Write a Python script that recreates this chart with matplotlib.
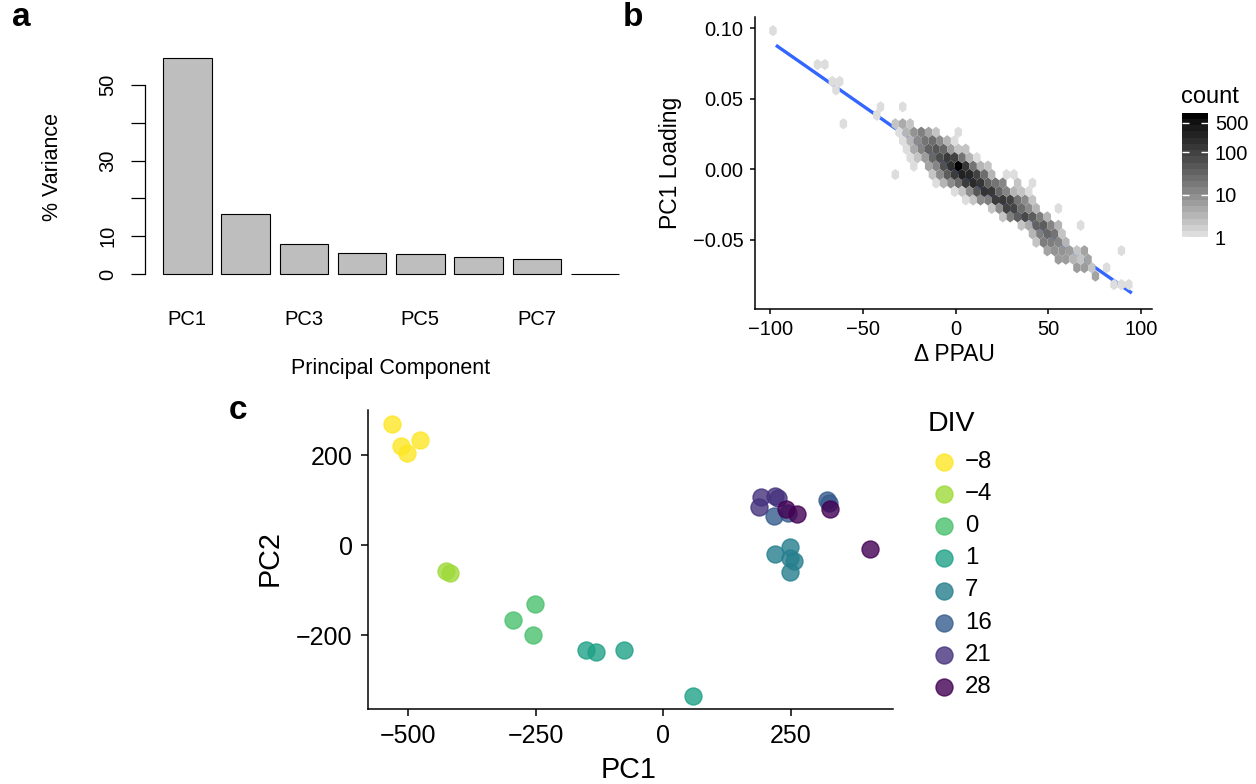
import numpy as np
import matplotlib
matplotlib.use("Agg")
import matplotlib.pyplot as plt
from matplotlib.colors import LinearSegmentedColormap, LogNorm, to_rgba
from matplotlib.cm import ScalarMappable

plt.rcParams["font.family"] = ["Liberation Sans", "DejaVu Sans"]

W, H = 1256, 784

# ---- panel a: scree plot ----
pc_labels = ["PC1", "PC2", "PC3", "PC4", "PC5", "PC6", "PC7", "PC8"]
pc_variance = [57.1, 15.8, 7.8, 5.6, 5.4, 4.5, 3.9, 0.0]
pc_tick_shown = ["PC1", "", "PC3", "", "PC5", "", "PC7", ""]
var_ticks = [0, 10, 20, 30, 40, 50]
var_tick_labels = ["0", "10", "", "30", "", "50"]

# ---- panel b: hexbin of PC1 loading vs delta PPAU (cell centres + counts) ----
hex_rows_y = [0.0983, 0.0743, 0.0623, 0.0563, 0.0443, 0.0383, 0.0323, 0.0263,
              0.0203, 0.0143, 0.0083, 0.0023, -0.0037, -0.0097, -0.0157, -0.0217,
              -0.0277, -0.0337, -0.0397, -0.0457, -0.0517, -0.0577, -0.0637,
              -0.0697, -0.0757, -0.0817]
hex_rows_x = [
    [-98.6],
    [-74.6, -70.6],
    [-66.6, -62.6],
    [-64.6],
    [-40.6, -28.6],
    [-42.6],
    [-60.6, -32.6, -28.6, -24.6],
    [-30.6, -26.6, -22.6, -18.6, -14.6, -10.6, 1.4],
    [-28.6, -24.6, -20.6, -16.6, -12.6, -8.6, -4.6, -0.6],
    [-26.6, -22.6, -18.6, -14.6, -10.6, -6.6, -2.6, 1.4, 5.4],
    [-24.6, -20.6, -16.6, -12.6, -8.6, -4.6, -0.6, 3.4, 7.4, 11.4],
    [-22.6, -14.6, -10.6, -6.6, -2.6, 1.4, 5.4, 9.4, 13.4, 17.4],
    [-32.6, -12.6, -8.6, -4.6, -0.6, 3.4, 7.4, 11.4, 15.4, 19.4, 27.4, 31.4],
    [-10.6, -6.6, -2.6, 1.4, 5.4, 9.4, 13.4, 17.4, 21.4, 25.4, 33.4, 41.4],
    [-0.6, 3.4, 7.4, 11.4, 15.4, 19.4, 23.4, 27.4, 31.4, 35.4, 39.4],
    [5.4, 9.4, 13.4, 17.4, 21.4, 25.4, 29.4, 33.4, 37.4, 41.4],
    [19.4, 23.4, 27.4, 31.4, 35.4, 39.4, 43.4, 55.4],
    [25.4, 29.4, 33.4, 37.4, 41.4, 45.4, 49.4],
    [35.4, 39.4, 43.4, 47.4, 51.4, 55.4, 67.4],
    [41.4, 45.4, 49.4, 53.4, 57.4],
    [43.4, 47.4, 51.4, 55.4, 59.4],
    [49.4, 53.4, 57.4, 61.4, 65.4, 69.4, 89.4],
    [55.4, 59.4, 63.4, 67.4, 71.4],
    [65.4, 69.4, 73.4, 81.4],
    [75.4],
    [85.4, 89.4, 93.4],
]
hex_rows_n = [
    [1],
    [1, 1],
    [1, 1],
    [1],
    [1, 1],
    [1],
    [1, 2, 4, 2],
    [1, 3, 8, 14, 5, 2, 1],
    [1, 3, 10, 20, 25, 10, 3, 1],
    [1, 4, 12, 35, 50, 30, 6, 2, 2],
    [1, 2, 6, 30, 70, 130, 100, 20, 3, 1],
    [1, 5, 12, 60, 180, 850, 150, 20, 3, 2],
    [1, 2, 10, 40, 120, 300, 250, 100, 25, 3, 1, 1],
    [1, 3, 10, 25, 120, 220, 150, 35, 20, 12, 2, 1],
    [1, 2, 10, 50, 160, 140, 30, 12, 3, 2, 1],
    [1, 2, 10, 15, 120, 140, 100, 20, 10, 2],
    [2, 10, 100, 90, 25, 10, 3, 1],
    [2, 15, 40, 80, 40, 15, 3],
    [2, 4, 35, 40, 12, 3, 1],
    [3, 15, 30, 20, 2],
    [2, 15, 15, 12, 3],
    [5, 8, 8, 6, 2, 5, 1],
    [6, 6, 3, 2, 5],
    [6, 6, 2, 1],
    [5],
    [1, 1, 1],
]
fit_x = np.array([-97.0, 95.0])
fit_slope = -0.000915
fit_intercept = -0.0008
count_ticks = [1, 10, 100, 500]
ppau_ticks = [-100, -50, 0, 50, 100]
ppau_labels = ["\u2212100", "\u221250", "0", "50", "100"]
loading_ticks = [-0.05, 0.0, 0.05, 0.10]
loading_labels = ["\u22120.05", "0.00", "0.05", "0.10"]

# ---- panel c: PCA of samples ----
div_levels = [-8, -4, 0, 1, 7, 16, 21, 28]
div_labels = ["\u22128", "\u22124", "0", "1", "7", "16", "21", "28"]
div_colors = ["#FDE725", "#9FDA3A", "#4AC16D", "#1FA187",
              "#277F8E", "#365C8D", "#46337E", "#440154"]
sample_div = [-8, -8, -8, -8, -4, -4, 0, 0, 0, 1, 1, 1, 1,
              7, 7, 7, 7, 7, 16, 16, 16, 16, 21, 21, 21, 21, 28, 28, 28, 28]
sample_pc1 = [-531, -515, -502, -477, -426, -419, -295, -251, -255,
              -152, -132, -77, 58, 220, 249, 248, 256, 248,
              218, 245, 322, 326, 193, 188, 220, 225, 242, 262, 327, 405]
sample_pc2 = [270, 219, 204, 234, -58, -63, -167, -131, -200,
              -232, -238, -232, -335, -20, -5, -28, -35, -60,
              65, 72, 100, 93, 107, 85, 110, 104, 80, 70, 80, -8]
pc1_ticks = [-500, -250, 0, 250]
pc1_labels = ["\u2212500", "\u2212250", "0", "250"]
pc2_ticks = [-200, 0, 200]
pc2_labels = ["\u2212200", "0", "200"]


def grey_from_lstar(L):
    Y = ((L + 16) / 116) ** 3 if L > 8 else L / 903.3
    c = 1.055 * Y ** (1 / 2.4) - 0.055 if Y > 0.0031308 else 12.92 * Y
    return (c, c, c)


def make_grey_cmap(low_lstar=88.0, n=256):
    cols = [grey_from_lstar(low_lstar * (1 - t)) for t in np.linspace(0, 1, n)]
    return LinearSegmentedColormap.from_list("greys_lab", cols)


fig = plt.figure(figsize=(W / 100, H / 100), dpi=100, facecolor="white")


def px_axes(l, t, r, b, **kw):
    return fig.add_axes([l / W, 1 - b / H, (r - l) / W, (b - t) / H], **kw)


overlay = fig.add_axes([0, 0, 1, 1])
overlay.set_xlim(0, W)
overlay.set_ylim(H, 0)
overlay.axis("off")

# ---------------- panel a ----------------
ax_a = px_axes(145, 47, 629, 274)
bar_pos = 0.7 + 1.2 * np.arange(len(pc_labels))
ax_a.bar(bar_pos, pc_variance, width=1.0, color="#BEBEBE", edgecolor="black",
         linewidth=0.8, clip_on=False)
ax_a.set_xlim(-0.171, 9.8)
ax_a.set_ylim(0, 60)
for s in ["top", "right", "bottom"]:
    ax_a.spines[s].set_visible(False)
ax_a.spines["left"].set_bounds(0, 50)
ax_a.spines["left"].set_linewidth(0.9)
ax_a.set_yticks(var_ticks)
ax_a.set_yticklabels(var_tick_labels, rotation=90, va="center")
ax_a.tick_params(axis="y", length=10, width=0.9, pad=10, labelsize=14.5)
ax_a.set_xticks(bar_pos)
ax_a.set_xticklabels(pc_tick_shown)
ax_a.tick_params(axis="x", length=0, pad=26, labelsize=14.5)
overlay.text(53, 167, "% Variance", rotation=90, ha="center", va="center", fontsize=15.5)
overlay.text(391, 368, "Principal Component", ha="center", va="center", fontsize=15.5)
overlay.text(21, 17, "a", ha="center", va="center", fontsize=24, weight="bold")

# ---------------- panel b ----------------
ax_b = px_axes(755, 17, 1152, 308.7)
hex_x, hex_y, hex_n = [], [], []
for ry, xs, ns in zip(hex_rows_y, hex_rows_x, hex_rows_n):
    hex_x += xs
    hex_y += [ry] * len(xs)
    hex_n += ns
grey_cmap = make_grey_cmap()
count_norm = LogNorm(vmin=1, vmax=max(hex_n))
ax_b.plot(fit_x, fit_intercept + fit_slope * fit_x, color="#3366FF", lw=2.4,
          solid_capstyle="butt", zorder=1)
ax_b.hexbin(hex_x, hex_y, C=hex_n, gridsize=(54, 18),
            extent=(-110.6, 105.4, -0.1057, 0.1103),
            reduce_C_function=np.sum, cmap=grey_cmap, norm=count_norm,
            linewidths=0, zorder=2)
ax_b.set_xlim(-108.3, 105.9)
ax_b.set_ylim(-0.0988, 0.1080)
for s in ["top", "right"]:
    ax_b.spines[s].set_visible(False)
for s in ["left", "bottom"]:
    ax_b.spines[s].set_linewidth(1.1)
ax_b.set_xticks(ppau_ticks)
ax_b.set_xticklabels(ppau_labels)
ax_b.set_yticks(loading_ticks)
ax_b.set_yticklabels(loading_labels)
ax_b.tick_params(length=3.7, width=1.1, pad=4.5, labelsize=14.5)
overlay.text(670, 163, "PC1 Loading", rotation=90, ha="center", va="center", fontsize=16.5)
overlay.text(954, 354, "\u0394 PPAU", ha="center", va="center", fontsize=16.5)
overlay.text(1094, 60, "R = -0.96", ha="center", va="center", fontsize=13.4)
overlay.text(1094, 79, "p < 2.2e\u221216", ha="center", va="center", fontsize=13.4)
overlay.text(633, 17, "b", ha="center", va="center", fontsize=24, weight="bold")

cax = px_axes(1182, 112.7, 1208, 237.3)
sm = ScalarMappable(norm=count_norm, cmap=grey_cmap.resampled(20))
cbar = fig.colorbar(sm, cax=cax)
cbar.outline.set_visible(False)
cax.minorticks_off()
cbar.set_ticks(count_ticks)
cbar.set_ticklabels([str(t) for t in count_ticks])
cax.yaxis.set_ticks_position("both")
cax.tick_params(direction="in", color="white", length=5, width=1.0,
                labelsize=14.5, pad=5, labelleft=False, labelright=True)
overlay.text(1181, 97, "count", ha="left", va="center", fontsize=17)

# ---------------- panel c ----------------
ax_c = px_axes(368, 410, 893, 709)
col_of = dict(zip(div_levels, div_colors))
for lev in div_levels:
    xs = [x for x, d in zip(sample_pc1, sample_div) if d == lev]
    ys = [y for y, d in zip(sample_pc2, sample_div) if d == lev]
    ax_c.scatter(xs, ys, s=150, facecolor=to_rgba(col_of[lev], 0.8),
                 edgecolor=to_rgba(col_of[lev], 0.8), linewidth=1.0, zorder=3)
ax_c.set_xlim(-579, 451)
ax_c.set_ylim(-364, 300)
for s in ["top", "right"]:
    ax_c.spines[s].set_visible(False)
for s in ["left", "bottom"]:
    ax_c.spines[s].set_linewidth(1.1)
ax_c.set_xticks(pc1_ticks)
ax_c.set_xticklabels(pc1_labels)
ax_c.set_yticks(pc2_ticks)
ax_c.set_yticklabels(pc2_labels)
ax_c.tick_params(length=5, width=1.1, pad=6, labelsize=18)
overlay.text(629, 770, "PC1", ha="center", va="center", fontsize=20.7)
overlay.text(270, 558, "PC2", rotation=90, ha="center", va="center", fontsize=20.7)
overlay.text(238, 410, "c", ha="center", va="center", fontsize=24, weight="bold")

# legend
overlay.text(928, 424, "DIV", ha="left", va="center", fontsize=20.5)
for i, (lab, col) in enumerate(zip(div_labels, div_colors)):
    yy = 461.7 + 32.2 * i
    overlay.scatter([944.3], [yy], s=150, facecolor=to_rgba(col, 0.8),
                    edgecolor=to_rgba(col, 0.8), linewidth=1.0)
    overlay.text(965, yy, lab, ha="left", va="center", fontsize=17.3)

fig.savefig("out.png", dpi=100, facecolor="white")
